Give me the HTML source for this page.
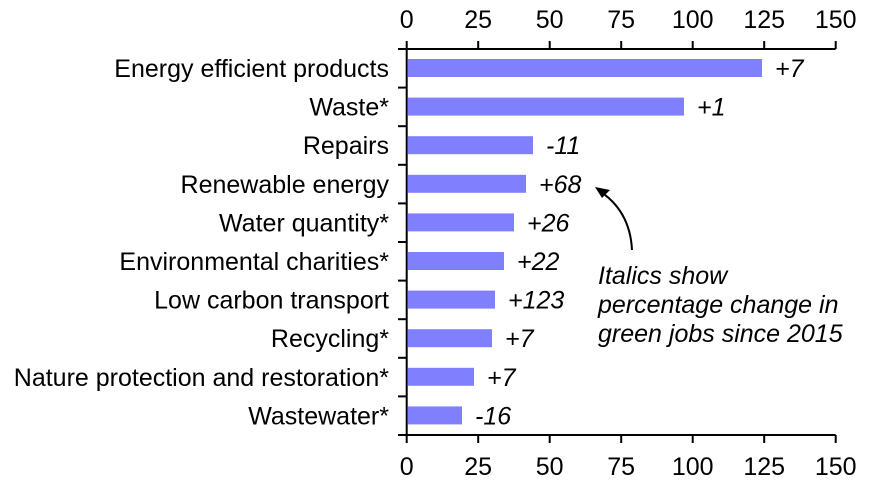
<!DOCTYPE html>
<html><head><style>body{margin:0;background:#fff}</style></head><body>
<svg width="873" height="481" xmlns="http://www.w3.org/2000/svg" font-family="Liberation Sans, Arial, sans-serif" font-size="25">
<rect width="873" height="481" fill="#fff"/>
<g stroke="#000" stroke-width="2" fill="none">
<line x1="406.7" y1="49" x2="835.7" y2="49"/>
<line x1="406.7" y1="435" x2="835.7" y2="435"/>
<line x1="406.7" y1="41" x2="406.7" y2="443"/>
<g>
<line x1="478.2" y1="41" x2="478.2" y2="49"/><line x1="549.7" y1="41" x2="549.7" y2="49"/><line x1="621.2" y1="41" x2="621.2" y2="49"/><line x1="692.7" y1="41" x2="692.7" y2="49"/><line x1="764.2" y1="41" x2="764.2" y2="49"/><line x1="835.7" y1="41" x2="835.7" y2="49"/>
<line x1="478.2" y1="435" x2="478.2" y2="443"/><line x1="549.7" y1="435" x2="549.7" y2="443"/><line x1="621.2" y1="435" x2="621.2" y2="443"/><line x1="692.7" y1="435" x2="692.7" y2="443"/><line x1="764.2" y1="435" x2="764.2" y2="443"/><line x1="835.7" y1="435" x2="835.7" y2="443"/>
</g>
<line x1="398" y1="49" x2="407" y2="49"/><line x1="398" y1="87.6" x2="407" y2="87.6"/><line x1="398" y1="126.2" x2="407" y2="126.2"/><line x1="398" y1="164.8" x2="407" y2="164.8"/><line x1="398" y1="203.4" x2="407" y2="203.4"/><line x1="398" y1="242" x2="407" y2="242"/><line x1="398" y1="280.6" x2="407" y2="280.6"/><line x1="398" y1="319.2" x2="407" y2="319.2"/><line x1="398" y1="357.8" x2="407" y2="357.8"/><line x1="398" y1="396.4" x2="407" y2="396.4"/><line x1="398" y1="435" x2="407" y2="435"/>
</g>
<g text-anchor="middle">
<text x="406.7" y="28">0</text><text x="478.2" y="28">25</text><text x="549.7" y="28">50</text><text x="621.2" y="28">75</text><text x="692.7" y="28">100</text><text x="764.2" y="28">125</text><text x="835.7" y="28">150</text>
<text x="406.7" y="475">0</text><text x="478.2" y="475">25</text><text x="549.7" y="475">50</text><text x="621.2" y="475">75</text><text x="692.7" y="475">100</text><text x="764.2" y="475">125</text><text x="835.7" y="475">150</text>
</g>
<g fill="#8080ff">
<rect x="407.7" y="59" width="354.3" height="18"/>
<rect x="407.7" y="97.6" width="276.3" height="18"/>
<rect x="407.7" y="136.2" width="125.3" height="18"/>
<rect x="407.7" y="174.8" width="118.3" height="18"/>
<rect x="407.7" y="213.4" width="106.3" height="18"/>
<rect x="407.7" y="252" width="96.3" height="18"/>
<rect x="407.7" y="290.6" width="87.3" height="18"/>
<rect x="407.7" y="329.2" width="84.3" height="18"/>
<rect x="407.7" y="367.8" width="66.3" height="18"/>
<rect x="407.7" y="406.4" width="54.3" height="18"/>
</g>
<g text-anchor="end">
<text x="389" y="77">Energy efficient products</text>
<text x="389" y="115.6">Waste*</text>
<text x="389" y="154.2">Repairs</text>
<text x="389" y="192.8">Renewable energy</text>
<text x="389" y="231.4">Water quantity*</text>
<text x="389" y="270">Environmental charities*</text>
<text x="389" y="308.6">Low carbon transport</text>
<text x="389" y="347.2">Recycling*</text>
<text x="389" y="385.8">Nature protection and restoration*</text>
<text x="389" y="424.4">Wastewater*</text>
</g>
<g font-style="italic">
<text x="775" y="77">+7</text>
<text x="697" y="115.6">+1</text>
<text x="546" y="154.2">-11</text>
<text x="539" y="192.8">+68</text>
<text x="527" y="231.4">+26</text>
<text x="517" y="270">+22</text>
<text x="508" y="308.6">+123</text>
<text x="505" y="347.2">+7</text>
<text x="487" y="385.8">+7</text>
<text x="475" y="424.4">-16</text>
<text x="598" y="284">Italics show</text>
<text x="598" y="313">percentage change in</text>
<text x="598" y="342">green jobs since 2015</text>
</g>
<path d="M632 250 Q630 210 598 190" stroke="#000" stroke-width="2" fill="none"/>
<path d="M595 187 L610 190 L602 198 Z" fill="#000"/>
</svg>
</body></html>
